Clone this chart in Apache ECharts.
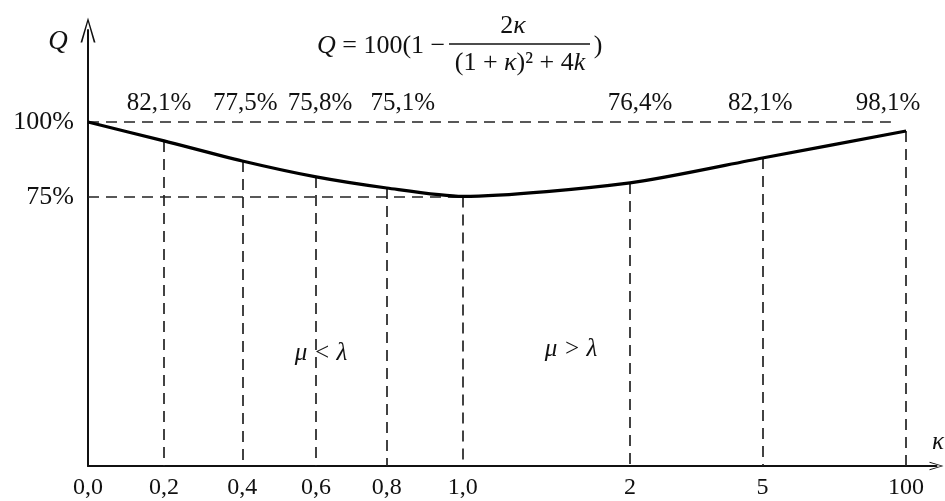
<!DOCTYPE html>
<html>
<head>
<meta charset="utf-8">
<script src="https://cdn.jsdelivr.net/npm/echarts@6/dist/echarts.min.js"></script>
<style>html,body{margin:0;padding:0;background:#fff}#c{width:945px;height:501px}</style>
</head>
<body>
<div id="c"></div>
<script>
// κ categories and their schematic (non-linear) axis positions
const kappaLabels = ['0,0', '0,2', '0,4', '0,6', '0,8', '1,0', '2', '5', '100'];
const kappaPos = [0, 1, 2.03, 3, 3.93, 4.93, 7.13, 8.87, 10.76];
// Q curve as drawn (%)
const curveQ = [100, 93.7, 87, 81.7, 78, 75.2, 79.7, 88, 97];
// annotated exact values
const valueLabels = ['', '82,1%', '77,5%', '75,8%', '75,1%', '', '76,4%', '82,1%', '98,1%'];
const minLabel = '75%';
const yTickValues = [75, 100];

const Y_MIN = -14.67, Y_MAX = 130.67, X_MAX = 11.16;
const serif = '"Liberation Serif", "Times New Roman", serif';
const ink = '#111';
const labelShift = [0, -5, 3, 4, 16, 0, 10, -2, -18];

const chart = echarts.init(document.getElementById('c'), null, {renderer: 'canvas'});

const curveData = kappaPos.map((x, i) => {
  const item = {value: [x, curveQ[i]]};
  if (i === 5) {
    item.label = {show: true, formatter: minLabel, position: 'top', distance: 15, offset: [17, 0],
      fontFamily: serif, fontSize: 25, color: ink};
  }
  return item;
});

const markData = [];
for (let i = 1; i < kappaPos.length; i++) {
  markData.push([{coord: [kappaPos[i], curveQ[i]]}, {coord: [kappaPos[i], Y_MIN]}]);
}
markData.push([{coord: [0, 100]}, {coord: [kappaPos[8] - 0.2, 100]}]);
markData.push([{coord: [0, 75]}, {coord: [kappaPos[5], 75]}]);

const annData = [];
kappaPos.forEach((x, i) => {
  if (valueLabels[i]) {
    annData.push({value: [x, 106.3], label: {offset: [labelShift[i], 0], formatter: valueLabels[i]}});
  }
});

const arrowPath = 'path://M0,20 L6,0 L12,20 L10.6,20 L6,3.5 L1.4,20 Z';

chart.setOption({
  animation: false,
  backgroundColor: '#fff',
  grid: {left: 88, right: 8.5, top: 30, bottom: 35},
  xAxis: {
    type: 'value', min: 0, max: X_MAX,
    axisLine: {show: true, onZero: false, lineStyle: {color: ink, width: 2},
      symbol: ['none', arrowPath], symbolSize: [20, 14]},
    axisTick: {show: false},
    splitLine: {show: false},
    axisLabel: {
      customValues: kappaPos,
      formatter: v => { const k = kappaPos.indexOf(v); return k >= 0 ? kappaLabels[k] : ''; },
      fontFamily: serif, fontSize: 24, color: ink, margin: 10, showMaxLabel: true
    }
  },
  yAxis: {
    type: 'value', min: Y_MIN, max: Y_MAX,
    axisLine: {show: true, onZero: false, lineStyle: {color: ink, width: 2},
      symbol: ['none', arrowPath], symbolSize: [16, 25]},
    axisTick: {show: false},
    splitLine: {show: false},
    axisLabel: {
      customValues: yTickValues,
      formatter: v => v + '%',
      fontFamily: serif, fontSize: 26, color: ink, margin: 14
    }
  },
  series: [
    {
      type: 'line',
      data: curveData,
      smooth: 0.25,
      showSymbol: false,
      symbol: 'none',
      lineStyle: {color: '#000', width: 3.2},
      z: 5,
      markLine: {
        silent: true,
        symbol: ['none', 'none'],
        label: {show: false},
        lineStyle: {color: '#222', width: 1.7, type: [11, 7]},
        data: markData,
        z: 2
      }
    },
    {
      type: 'scatter',
      data: annData,
      symbolSize: 0,
      itemStyle: {color: '#fff', opacity: 1},
      label: {show: true, position: 'inside', fontFamily: serif, fontSize: 25, color: ink,
        textBorderWidth: 0, textBorderColor: 'transparent'},
      z: 6
    }
  ],
  graphic: [
    {type: 'text', style: {text: 'Q', x: 58, y: 42, font: 'italic 27px ' + serif, fill: ink,
      align: 'center', verticalAlign: 'middle'}},
    {type: 'text', style: {text: 'κ', x: 938, y: 442, font: 'italic 25px ' + serif, fill: ink,
      align: 'center', verticalAlign: 'middle'}},
    {type: 'text', style: {text: '{i|Q} = 100(1 −', x: 317, y: 46, font: '26px ' + serif, fill: ink,
      align: 'left', verticalAlign: 'middle',
      rich: {i: {fontStyle: 'italic', fontFamily: serif, fontSize: 26}}}},
    {type: 'text', style: {text: '2{i|κ}', x: 513, y: 26, font: '26px ' + serif, fill: ink,
      align: 'center', verticalAlign: 'middle',
      rich: {i: {fontStyle: 'italic', fontFamily: serif, fontSize: 26}}}},
    {type: 'line', shape: {x1: 449, y1: 44, x2: 590, y2: 44}, style: {stroke: ink, lineWidth: 1.5}},
    {type: 'text', style: {text: '(1 + {i|κ})² + 4{i|k}', x: 520, y: 63, font: '26px ' + serif, fill: ink,
      align: 'center', verticalAlign: 'middle',
      rich: {i: {fontStyle: 'italic', fontFamily: serif, fontSize: 26}}}},
    {type: 'text', style: {text: ')', x: 598, y: 46, font: '26px ' + serif, fill: ink,
      align: 'center', verticalAlign: 'middle'}},
    {type: 'text', style: {text: 'μ < λ', x: 321, y: 353, font: 'italic 25px ' + serif, fill: ink,
      align: 'center', verticalAlign: 'middle'}},
    {type: 'text', style: {text: 'μ > λ', x: 571, y: 349, font: 'italic 25px ' + serif, fill: ink,
      align: 'center', verticalAlign: 'middle'}}
  ]
});
</script>
</body>
</html>
